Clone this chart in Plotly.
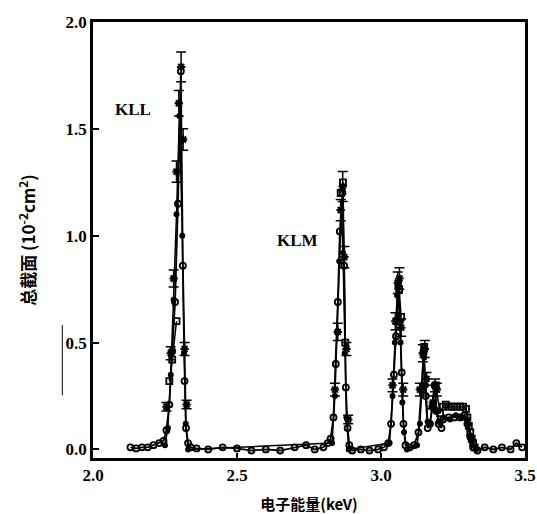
import plotly.graph_objects as go

# ---- data ----
e_open = [2.13, 2.15, 2.17, 2.19, 2.21, 2.23, 2.245, 2.255, 2.265, 2.275, 2.285, 2.295, 2.305, 2.312, 2.318, 2.323, 2.33, 2.34, 2.36,
          2.40, 2.45, 2.50, 2.55, 2.60, 2.65, 2.70, 2.74, 2.77, 2.80, 2.815,
          2.825, 2.835, 2.843, 2.85, 2.857, 2.866, 2.872, 2.878, 2.884, 2.89,
          2.90, 2.93, 2.96, 2.99, 3.01, 3.025, 3.035, 3.045, 3.052, 3.06, 3.066, 3.072, 3.078, 3.085,
          3.10, 3.115, 3.13, 3.14, 3.148, 3.155, 3.162, 3.17, 3.178, 3.186, 3.193, 3.20, 3.21,
          3.215, 3.235, 3.255, 3.275, 3.29, 3.30, 3.31, 3.32, 3.335, 3.36, 3.39, 3.42, 3.45, 3.47, 3.49]
cs_open = [0.01, 0.005, 0.01, 0.01, 0.02, 0.03, 0.04, 0.09, 0.21, 0.46, 0.69, 1.15, 1.77, 0.86, 0.32, 0.10, 0.03, 0.01, 0.005,
           0.0, 0.01, 0.005, -0.005, 0.0, -0.005, 0.01, 0.02, 0.0, 0.01, 0.03,
           0.05, 0.15, 0.40, 0.69, 1.02, 1.20, 0.86, 0.29, 0.10, 0.02,
           -0.005, 0.0, -0.005, 0.0, 0.01, 0.03, 0.12, 0.35, 0.53, 0.76, 0.60, 0.36, 0.12, 0.02,
           0.01, 0.02, 0.08, 0.28, 0.45, 0.25, 0.10, 0.12, 0.20, 0.30, 0.18, 0.12, 0.10,
           0.14, 0.15, 0.15, 0.15, 0.16, 0.12, 0.06, 0.01, -0.005, 0.01, 0.0, 0.01, 0.0, 0.03, 0.01]

e_filled = [2.25, 2.26, 2.27, 2.28, 2.29, 2.30, 2.31, 2.316, 2.322, 2.33,
            2.83, 2.84, 2.848, 2.855, 2.862, 2.868, 2.874, 2.88, 2.888,
            3.03, 3.04, 3.048, 3.056, 3.062, 3.068, 3.074, 3.08, 3.09,
            3.125, 3.135, 3.143, 3.15, 3.156, 3.162, 3.17, 3.18, 3.187, 3.194, 3.20,
            3.22, 3.24, 3.26, 3.28, 3.30, 3.315, 3.33]
cs_filled = [0.02, 0.10, 0.35, 0.70, 1.10, 1.56, 1.00, 0.45, 0.12, 0.0,
             0.03, 0.25, 0.55, 0.88, 1.12, 0.92, 0.45, 0.15, 0.0,
             0.03, 0.25, 0.50, 0.72, 0.78, 0.50, 0.22, 0.08, 0.0,
             0.02, 0.12, 0.30, 0.43, 0.30, 0.13, 0.12, 0.20, 0.29, 0.18, 0.13,
             0.15, 0.14, 0.16, 0.15, 0.14, 0.05, 0.0]

e_cross = [2.255, 2.27, 2.28, 2.29, 2.298, 2.306, 2.313, 2.318, 2.325,
           2.84, 2.85, 2.86, 2.867, 2.873, 2.88, 2.886,
           3.04, 3.05, 3.058, 3.064, 3.07, 3.077,
           3.135, 3.145, 3.152, 3.158,
           3.18, 3.188, 3.194]
cs_cross = [0.20, 0.45, 0.80, 1.30, 1.62, 1.79, 1.45, 0.47, 0.21,
            0.28, 0.55, 1.12, 1.23, 0.90, 0.47, 0.14,
            0.30, 0.60, 0.78, 0.80, 0.57, 0.28,
            0.28, 0.45, 0.47, 0.33,
            0.22, 0.30, 0.28]
err_cross = [0.02, 0.03, 0.04, 0.05, 0.06, 0.07, 0.05, 0.03, 0.02,
             0.03, 0.04, 0.05, 0.07, 0.05, 0.03, 0.02,
             0.03, 0.04, 0.05, 0.05, 0.04, 0.03,
             0.03, 0.04, 0.04, 0.03,
             0.03, 0.03, 0.03]

e_square = [2.265, 2.275, 2.29, None, 2.86, 2.868, 2.876, None, 3.055, 3.063, 3.07, None, 3.15, None, 3.19,
            3.205, 3.215, 3.225, 3.235, 3.245, 3.255, 3.265, 3.275, 3.285, 3.295, 3.30, 3.305, 3.31, 3.315, 3.32, 3.325]
cs_square = [0.32, 0.42, 0.60, None, 1.20, 1.25, 0.50, None, 0.60, 0.75, 0.62, None, 0.48, None, 0.30,
             0.17, 0.20, 0.21, 0.20, 0.20, 0.20, 0.20, 0.20, 0.20, 0.19, 0.15, 0.11, 0.08, 0.05, 0.03, 0.01]

x_ticks = [2.0, 2.5, 3.0, 3.5]
y_ticks = [0.0, 0.5, 1.0, 1.5, 2.0]

serif = "Liberation Serif"
cjk = "Noto Sans CJK SC"

fig = go.Figure()
fig.add_trace(go.Scatter(x=e_open, y=cs_open, mode="lines+markers",
                         line=dict(color="black", width=1.8),
                         marker=dict(symbol="circle-open", size=6, color="black", line=dict(width=1.8))))
fig.add_trace(go.Scatter(x=e_filled, y=cs_filled, mode="lines+markers",
                         line=dict(color="black", width=1.5),
                         marker=dict(symbol="circle", size=6, color="black")))
fig.add_trace(go.Scatter(x=e_square, y=cs_square, mode="lines+markers",
                         line=dict(color="black", width=1.5),
                         marker=dict(symbol="square-open", size=6, color="black", line=dict(width=1.8))))
fig.add_trace(go.Scatter(x=e_cross, y=cs_cross, mode="markers",
                         error_y=dict(type="data", array=err_cross, color="black", thickness=1.5, width=5),
                         marker=dict(symbol="asterisk-open", size=7, color="black", line=dict(width=2, color="black"))))

fig.add_annotation(x=2.138, y=1.59, text="<b>KLL</b>", showarrow=False,
                   font=dict(family=serif, size=17, color="black"))
fig.add_annotation(x=2.711, y=0.98, text="<b>KLM</b>", showarrow=False,
                   font=dict(family=serif, size=17, color="black"))

# scan artefact line left of the axis
fig.add_shape(type="line", xref="paper", yref="paper", x0=-0.071, x1=-0.071, y0=0.144, y1=0.305,
              line=dict(color="black", width=1))

fig.update_layout(
    width=537, height=514,
    margin=dict(l=93, r=12, t=22, b=56),
    paper_bgcolor="white", plot_bgcolor="white",
    showlegend=False,
    font=dict(family=serif, color="black"),
    xaxis=dict(range=[2.0, 3.5], tickvals=x_ticks, ticktext=[f"<b>{v:.1f}</b>" for v in x_ticks],
               automargin=False, ticklabeloverflow="allow",
               showgrid=False, zeroline=False, showline=True, linecolor="black", linewidth=2.5,
               mirror=True, ticks="inside", ticklen=5, tickwidth=1.5, tickcolor="black",
               tickfont=dict(family=serif, size=17, color="black"),
               title=dict(text="<b>电子能量(keV)</b>", standoff=24,
                          font=dict(family=cjk, size=15, color="black"))),
    yaxis=dict(range=[-0.04, 2.0], tickvals=y_ticks, ticktext=[f"<b>{v:.1f}</b>" for v in y_ticks],
               automargin=False, ticklabeloverflow="allow",
               showgrid=False, zeroline=False, showline=True, linecolor="black", linewidth=2.5,
               mirror=True, ticks="inside", ticklen=6, tickwidth=1.5, tickcolor="black",
               tickfont=dict(family=serif, size=17, color="black"),
               title=dict(text="<b>总截面 (10<sup>-2</sup>cm<sup>2</sup>)</b>", standoff=26,
                          font=dict(family=cjk, size=17, color="black"))),
)

fig.write_html("out.html")
